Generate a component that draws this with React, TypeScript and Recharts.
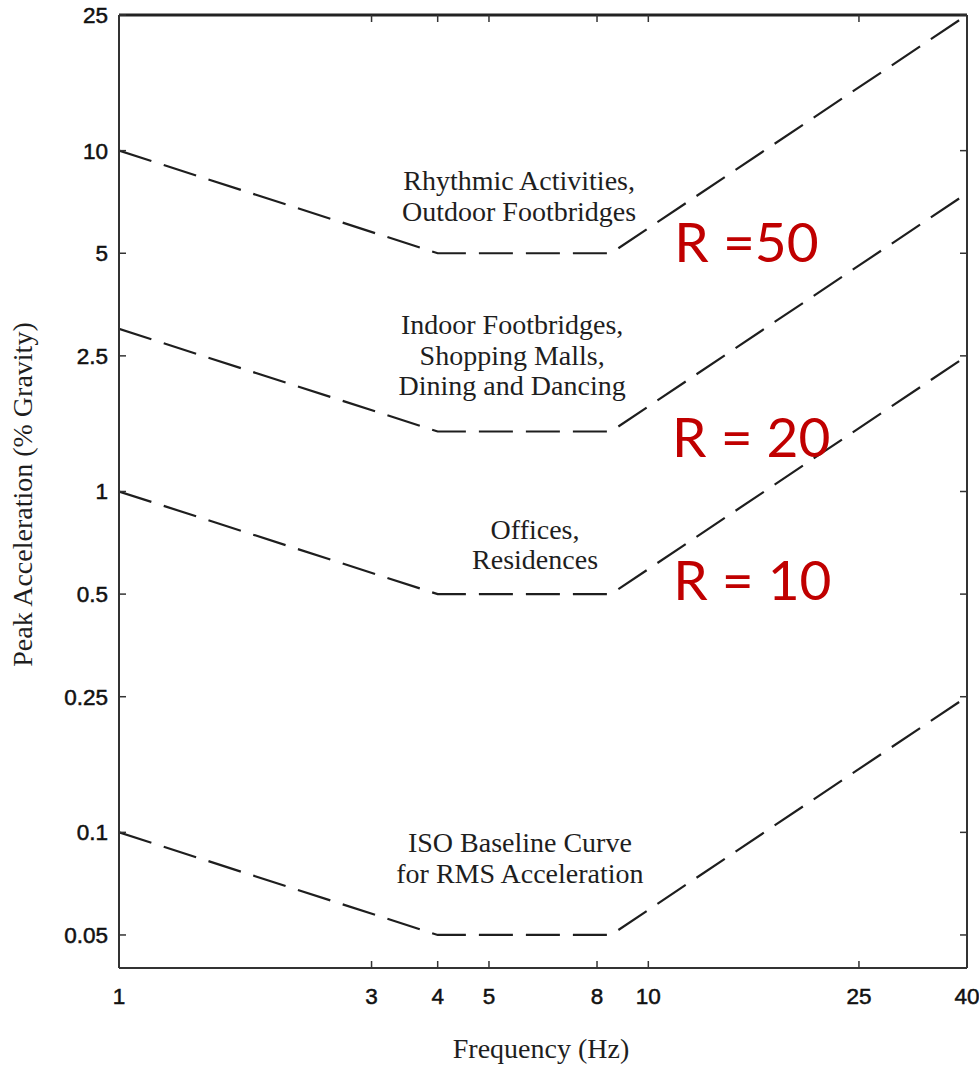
import React from 'react';
import { LineChart, Line, XAxis, YAxis, ReferenceDot } from 'recharts';

// Frequency breakpoints (Hz) and peak acceleration limits (% gravity)
const frequencies = [1, 4, 8.5, 40];
const isoBaseline = [0.1, 0.05, 0.05, 0.25];
const offices = [1, 0.5, 0.5, 2.5];
const indoor = [3, 1.5, 1.5, 7.5];
const rhythmic = [10, 5, 5, 25];

const xTicks = [1, 3, 4, 5, 8, 10, 25, 40];
const yTicks = [0.05, 0.1, 0.25, 0.5, 1, 2.5, 5, 10, 25];

const curveLabelFreq = [5.7, 5.53, 6.11, 5.72];
const curveLabelValue = [7.64, 2.89, 0.726, 0.0874];
const curveLabelLines = [
  ['Rhythmic Activities,', 'Outdoor Footbridges'],
  ['Indoor Footbridges,', 'Shopping Malls,', 'Dining and Dancing'],
  ['Offices,', 'Residences'],
  ['ISO Baseline Curve', 'for RMS Acceleration'],
];

const ratioFreq = [11.2, 11.09, 11.14];
const ratioValue = [4.7, 1.26, 0.481];
const ratioText = ['R =50', 'R = 20', 'R = 10'];

const data = frequencies.map((f, i) => ({
  f,
  iso: isoBaseline[i],
  offices: offices[i],
  indoor: indoor[i],
  rhythmic: rhythmic[i],
}));

const SERIF = '"Liberation Serif", "Times New Roman", serif';
const SANS = '"Liberation Sans", Arial, sans-serif';
const INK = '#1e1e1e';

const tickStyle = { fontSize: 22.5, fill: '#111', stroke: '#111', strokeWidth: 0.5, fontFamily: SANS };

const seriesKeys = ['rhythmic', 'indoor', 'offices', 'iso'];

export default function App() {
  return (
    <div style={{ position: 'fixed', top: 0, left: 0, width: 979, height: 1065, background: '#fff' }}>
      <LineChart
        width={979}
        height={1065}
        data={data}
        margin={{ top: 14, right: 11, bottom: 0, left: 0 }}
      >
        <XAxis
          xAxisId="b"
          dataKey="f"
          type="number"
          scale="log"
          domain={[1, 40]}
          allowDataOverflow
          ticks={xTicks}
          interval={0}
          orientation="bottom"
          height={97}
          tickSize={-7}
          tickMargin={27}
          tick={tickStyle}
          axisLine={{ stroke: '#333', strokeWidth: 2 }}
          tickLine={{ stroke: '#333', strokeWidth: 1.5 }}
          label={(props: any) => {
            const vb = props.viewBox || {};
            return (
              <text
                x={vb.x + vb.width / 2 - 2}
                y={vb.y + 90}
                textAnchor="middle"
                fontFamily={SERIF}
                fontSize={28}
                fill={INK}
              >
                Frequency (Hz)
              </text>
            );
          }}
        />
        <XAxis
          xAxisId="t"
          dataKey="f"
          type="number"
          scale="log"
          domain={[1, 40]}
          allowDataOverflow
          ticks={xTicks}
          interval={0}
          orientation="top"
          height={1}
          tickSize={-7}
          tickFormatter={() => ''}
          axisLine={{ stroke: '#222', strokeWidth: 3 }}
          tickLine={{ stroke: '#333', strokeWidth: 1.5 }}
        />
        <YAxis
          yAxisId="l"
          type="number"
          scale="log"
          domain={[0.04, 25]}
          allowDataOverflow
          ticks={yTicks}
          interval={0}
          orientation="left"
          width={119}
          tickSize={-7}
          tickMargin={18}
          tick={tickStyle}
          axisLine={{ stroke: '#333', strokeWidth: 2 }}
          tickLine={{ stroke: '#333', strokeWidth: 1.5 }}
          label={(props: any) => {
            const vb = props.viewBox || {};
            const cx = vb.x + 22;
            const cy = vb.y + vb.height / 2 + 3;
            return (
              <text
                x={cx}
                y={cy}
                transform={`rotate(-90 ${cx} ${cy})`}
                textAnchor="middle"
                dominantBaseline="central"
                fontFamily={SERIF}
                fontSize={28}
                fill={INK}
              >
                Peak Acceleration (% Gravity)
              </text>
            );
          }}
        />
        <YAxis
          yAxisId="r"
          type="number"
          scale="log"
          domain={[0.04, 25]}
          allowDataOverflow
          ticks={yTicks}
          interval={0}
          orientation="right"
          width={1}
          tickSize={-7}
          tickFormatter={() => ''}
          axisLine={{ stroke: '#333', strokeWidth: 2 }}
          tickLine={{ stroke: '#333', strokeWidth: 1.5 }}
        />
        {seriesKeys.map((k) => (
          <Line
            key={k}
            xAxisId="b"
            yAxisId="l"
            dataKey={k}
            type="linear"
            stroke={INK}
            strokeWidth={2.2}
            strokeDasharray="34 13"
            dot={false}
            activeDot={false}
            isAnimationActive={false}
          />
        ))}
        {curveLabelLines.map((lines, i) => (
          <ReferenceDot
            key={`c${i}`}
            xAxisId="b"
            yAxisId="l"
            x={curveLabelFreq[i]}
            y={curveLabelValue[i]}
            r={0}
            ifOverflow="visible"
            shape={(p: any) => (
              <text
                x={p.cx}
                y={p.cy}
                textAnchor="middle"
                fontFamily={SERIF}
                fontSize={28}
                fill={INK}
              >
                {lines.map((ln, j) => (
                  <tspan key={j} x={p.cx} dy={j === 0 ? 0 : 30.5}>
                    {ln}
                  </tspan>
                ))}
              </text>
            )}
          />
        ))}
        {ratioText.map((t, i) => (
          <ReferenceDot
            key={`r${i}`}
            xAxisId="b"
            yAxisId="l"
            x={ratioFreq[i]}
            y={ratioValue[i]}
            r={0}
            ifOverflow="visible"
            shape={(p: any) => (
              <text
                x={p.cx}
                y={p.cy}
                textAnchor="start"
                fontFamily="Lato, 'Open Sans', sans-serif"
                fontSize={55}
                fill="#C00000"
              >
                {t}
              </text>
            )}
          />
        ))}
      </LineChart>
    </div>
  );
}
